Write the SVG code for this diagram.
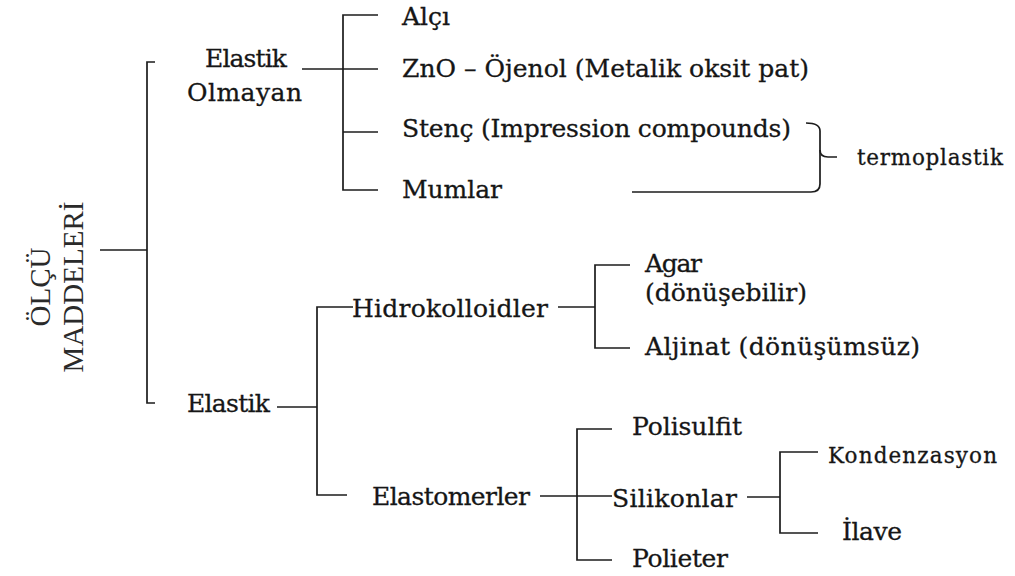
<svg xmlns="http://www.w3.org/2000/svg" width="1015" height="576" viewBox="0 0 1015 576">
<style>
.t{font-family:"DejaVu Serif","Liberation Serif",serif;font-size:25px;fill:#161616;stroke:#161616;stroke-width:0.3}
.s{font-size:21.5px}
.title{font-family:"Liberation Serif","DejaVu Serif",serif;font-size:29px;fill:#2a2a2a;text-anchor:middle}
.c path{fill:none;stroke:#1c1c1c;stroke-width:1.7}
</style>
<rect width="1015" height="576" fill="#ffffff"/>
<g class="c" id="connectors">
<path d="M100,250 H147"/>
<path d="M155,62 H147 V403 H155"/>
<path d="M302,69 H378"/>
<path d="M378,15 H343 V190 H378"/>
<path d="M343,132 H378"/>
<path d="M806,123 Q820,123 820,131 V184 Q820,192 811,192 H632"/>
<path d="M820,150 Q820,157 828,157 H837"/>
<path d="M277,407 H317"/>
<path d="M353,307 H317 V495 H347"/>
<path d="M558,307 H595"/>
<path d="M630,265 H595 V348 H630"/>
<path d="M540,496 H612"/>
<path d="M612,429 H577 V560 H612"/>
<path d="M747,497 H780"/>
<path d="M818,452 H780 V533 H818"/>
</g>
<g id="n-root"><text class="title" transform="translate(50,287) rotate(-90)"><tspan x="0" y="0">ÖLÇÜ</tspan><tspan x="0" y="33">MADDELERİ</tspan></text></g>
<g id="n-elastik-olmayan"><text class="t" x="205" y="67" textLength="82">Elastik</text><text class="t" x="187" y="101" textLength="115">Olmayan</text></g>
<g id="n-alci"><text class="t" x="402" y="25" textLength="48">Alçı</text></g>
<g id="n-zno"><text class="t" x="402" y="77" textLength="407">ZnO – Öjenol (Metalik oksit pat)</text></g>
<g id="n-stenc"><text class="t" x="402" y="137" textLength="389">Stenç (Impression compounds)</text></g>
<g id="n-mumlar"><text class="t" x="402" y="198" textLength="100">Mumlar</text></g>
<g id="n-termoplastik"><text class="t s" x="857" y="165" textLength="146">termoplastik</text></g>
<g id="n-elastik"><text class="t" x="187" y="412" textLength="83">Elastik</text></g>
<g id="n-hidrokolloidler"><text class="t" x="352" y="317" textLength="196">Hidrokolloidler</text></g>
<g id="n-agar"><text class="t" x="645" y="272" textLength="57">Agar</text><text class="t" x="645" y="301" textLength="162">(dönüşebilir)</text></g>
<g id="n-aljinat"><text class="t" x="645" y="355" textLength="275">Aljinat (dönüşümsüz)</text></g>
<g id="n-elastomerler"><text class="t" x="372" y="505" textLength="158">Elastomerler</text></g>
<g id="n-polisulfit"><text class="t" x="632" y="435" textLength="110">Polisulfit</text></g>
<g id="n-silikonlar"><text class="t" x="612" y="507" textLength="125">Silikonlar</text></g>
<g id="n-polieter"><text class="t" x="632" y="567" textLength="96">Polieter</text></g>
<g id="n-kondenzasyon"><text class="t s" x="828" y="463" textLength="169">Kondenzasyon</text></g>
<g id="n-ilave"><text class="t" x="842" y="540" textLength="60">İlave</text></g>
</svg>
